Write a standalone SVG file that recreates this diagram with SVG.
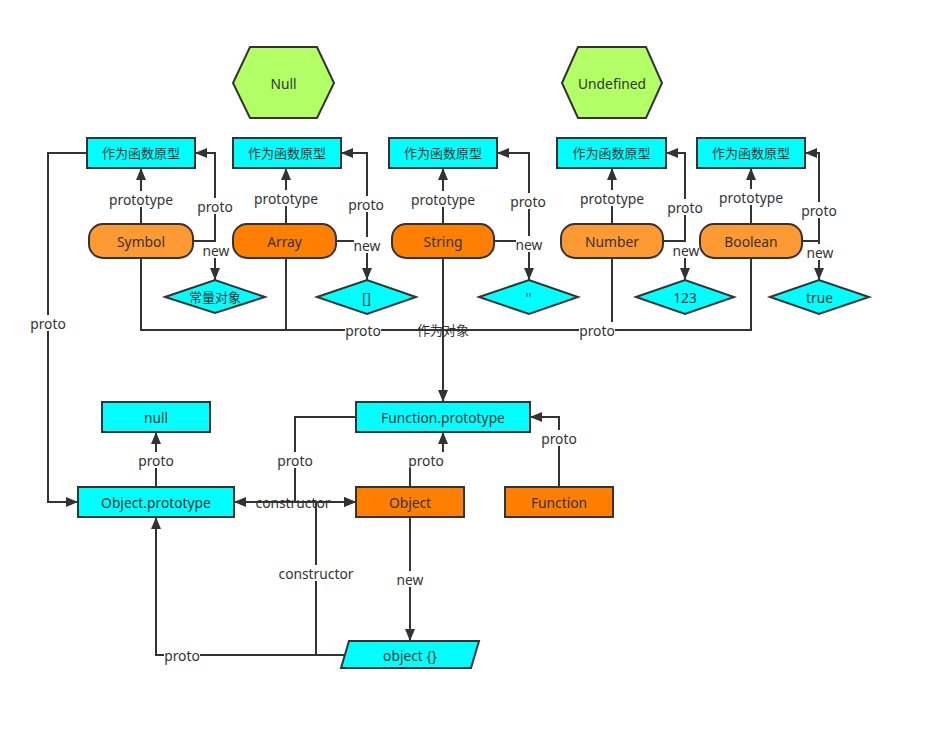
<svg xmlns="http://www.w3.org/2000/svg" width="931" height="730" viewBox="0 0 931 730">
<style>
text{font-family:"Noto Sans","Noto Sans CJK SC",sans-serif;font-size:13.8px;fill:#333;text-anchor:middle;dominant-baseline:central}
text.cjk{font-size:13px}
.box{fill:#00ffff;stroke:#333;stroke-width:2}
.po{fill:#ff9933;stroke:#333;stroke-width:2}
.pd{fill:#ff8000;stroke:#333;stroke-width:2}
.hex{fill:#b3ff66;stroke:#333;stroke-width:2}
.e{fill:none;stroke:#333;stroke-width:2}
.a{marker-end:url(#arr)}
.bg{fill:#fff}
</style>
<defs>
<marker id="arr" markerUnits="userSpaceOnUse" markerWidth="12" markerHeight="10" refX="12" refY="5" orient="auto">
<path d="M0,0 L12,5 L0,10 z" fill="#333"/>
</marker>
</defs>
<rect width="931" height="730" fill="#fff"/>
<g id="connectors">
<path class="e a" d="M141 224 V168"/>
<path class="e a" d="M286 224 V168"/>
<path class="e a" d="M443 224 V168"/>
<path class="e a" d="M612 224 V168"/>
<path class="e a" d="M751 224 V168"/>
<path class="e a" d="M193 241 H215 V280"/>
<path class="e a" d="M336 241 H367 V280"/>
<path class="e a" d="M494 241 H529 V280"/>
<path class="e a" d="M663 241 H685 V280"/>
<path class="e a" d="M802 241 H819 V280"/>
<path class="e a" d="M215 280 V153 H195"/>
<path class="e a" d="M367 280 V153 H341"/>
<path class="e a" d="M529 280 V153 H497"/>
<path class="e a" d="M685 280 V153 H666"/>
<path class="e a" d="M819 280 V153 H805"/>
<path class="e a" d="M87 153 H48 V502 H78"/>
<path class="e" d="M141 258 V330 H751 V258"/>
<path class="e" d="M286 258 V330"/>
<path class="e" d="M612 258 V330"/>
<path class="e a" d="M443 258 V402"/>
<path class="e a" d="M356 417 H295 V502 H234"/>
<path class="e a" d="M234 502 H356"/>
<path class="e a" d="M345 655 H316 V502 H356"/>
<path class="e a" d="M410 487 V460 H443 V432"/>
<path class="e a" d="M410 517 V641"/>
<path class="e a" d="M345 655 H156 V517"/>
<path class="e a" d="M156 487 V432"/>
<path class="e a" d="M559 487 V417 H530"/>
<g id="labels">
<rect class="bg" x="108" y="191" width="66" height="16"/><text x="141" y="199">prototype</text>
<rect class="bg" x="253" y="190" width="66" height="16"/><text x="286" y="198">prototype</text>
<rect class="bg" x="410" y="191" width="66" height="16"/><text x="443" y="199">prototype</text>
<rect class="bg" x="579" y="190" width="66" height="16"/><text x="612" y="198">prototype</text>
<rect class="bg" x="718" y="189" width="66" height="16"/><text x="751" y="197">prototype</text>
<rect class="bg" x="197" y="198" width="36" height="16"/><text x="215" y="206">proto</text>
<rect class="bg" x="348" y="196" width="36" height="16"/><text x="366" y="204">proto</text>
<rect class="bg" x="510" y="193" width="36" height="16"/><text x="528" y="201">proto</text>
<rect class="bg" x="667" y="199" width="36" height="16"/><text x="685" y="207">proto</text>
<rect class="bg" x="801" y="202" width="36" height="16"/><text x="819" y="210">proto</text>
<rect class="bg" x="203" y="242" width="27" height="16"/><text x="216" y="250">new</text>
<rect class="bg" x="354" y="237" width="27" height="16"/><text x="367" y="245">new</text>
<rect class="bg" x="516" y="236" width="27" height="16"/><text x="529" y="244">new</text>
<rect class="bg" x="673" y="242" width="27" height="16"/><text x="686" y="250">new</text>
<rect class="bg" x="807" y="244" width="27" height="16"/><text x="820" y="252">new</text>
<rect class="bg" x="30" y="315" width="36" height="16"/><text x="48" y="323">proto</text>
<rect class="bg" x="345" y="322" width="36" height="16"/><text x="363" y="330">proto</text>
<text class="cjk" x="443" y="330">作为对象</text>
<rect class="bg" x="579" y="322" width="36" height="16"/><text x="597" y="330">proto</text>
<rect class="bg" x="138" y="452" width="36" height="16"/><text x="156" y="460">proto</text>
<rect class="bg" x="277" y="452" width="36" height="16"/><text x="295" y="460">proto</text>
<rect class="bg" x="408" y="452" width="36" height="16"/><text x="426" y="460">proto</text>
<text x="293" y="502">constructor</text>
<rect class="bg" x="278" y="565" width="76" height="16"/><text x="316" y="573">constructor</text>
<rect class="bg" x="397" y="571" width="27" height="16"/><text x="410" y="579">new</text>
<rect class="bg" x="164" y="647" width="36" height="16"/><text x="182" y="655">proto</text>
<rect class="bg" x="541" y="430" width="36" height="16"/><text x="559" y="438">proto</text>
</g>
</g>
<g id="null-hex"><polygon class="hex" points="233,83 250,47 317,47 334,83 317,118 250,118"/><text x="283.5" y="83">Null</text></g>
<g id="undefined-hex"><polygon class="hex" points="562,83 578,47 646,47 662,83 646,118 578,118"/><text x="612" y="83">Undefined</text></g>
<g id="proto-symbol"><rect class="box" x="87" y="138" width="108" height="30"/><text class="cjk" x="141" y="153">作为函数原型</text></g>
<g id="proto-array"><rect class="box" x="233" y="138" width="108" height="30"/><text class="cjk" x="287" y="153">作为函数原型</text></g>
<g id="proto-string"><rect class="box" x="389" y="138" width="108" height="30"/><text class="cjk" x="443" y="153">作为函数原型</text></g>
<g id="proto-number"><rect class="box" x="557" y="138" width="109" height="30"/><text class="cjk" x="611.5" y="153">作为函数原型</text></g>
<g id="proto-boolean"><rect class="box" x="697" y="138" width="108" height="30"/><text class="cjk" x="751" y="153">作为函数原型</text></g>
<g id="symbol"><rect class="po" x="89" y="224" width="104" height="34" rx="14"/><text x="141" y="241">Symbol</text></g>
<g id="array"><rect class="pd" x="233" y="224" width="103" height="34" rx="14"/><text x="284.5" y="241">Array</text></g>
<g id="string"><rect class="pd" x="392" y="224" width="102" height="34" rx="14"/><text x="443" y="241">String</text></g>
<g id="number"><rect class="po" x="561" y="224" width="102" height="34" rx="14"/><text x="612" y="241">Number</text></g>
<g id="boolean"><rect class="po" x="700" y="224" width="102" height="34" rx="14"/><text x="751" y="241">Boolean</text></g>
<g id="const-obj"><polygon class="box" points="165,297 215,280 265,297 215,313"/><text class="cjk" x="215" y="297">常量对象</text></g>
<g id="arr-lit"><polygon class="box" points="317,297 367,280 416,297 367,314"/><text x="366.5" y="297">[]</text></g>
<g id="str-lit"><polygon class="box" points="479,297 529,280 578,297 529,314"/><text x="528.5" y="297">''</text></g>
<g id="num-lit"><polygon class="box" points="636,297 685,280 734,297 685,314"/><text x="685" y="297">123</text></g>
<g id="bool-lit"><polygon class="box" points="770,297 819,280 869,297 819,314"/><text x="819.5" y="297">true</text></g>
<g id="function-prototype"><rect class="box" x="356" y="402" width="174" height="30"/><text x="443" y="417">Function.prototype</text></g>
<g id="null"><rect class="box" x="102" y="402" width="108" height="30"/><text x="156" y="417">null</text></g>
<g id="object-prototype"><rect class="box" x="78" y="487" width="156" height="30"/><text x="156" y="502">Object.prototype</text></g>
<g id="object"><rect class="pd" x="356" y="487" width="108" height="30"/><text x="410" y="502">Object</text></g>
<g id="function"><rect class="pd" x="505" y="487" width="108" height="30"/><text x="559" y="502">Function</text></g>
<g id="object-literal"><polygon class="box" points="349,641 479,641 471,668 341,668"/><text x="410" y="655">object {}</text></g>
</svg>
